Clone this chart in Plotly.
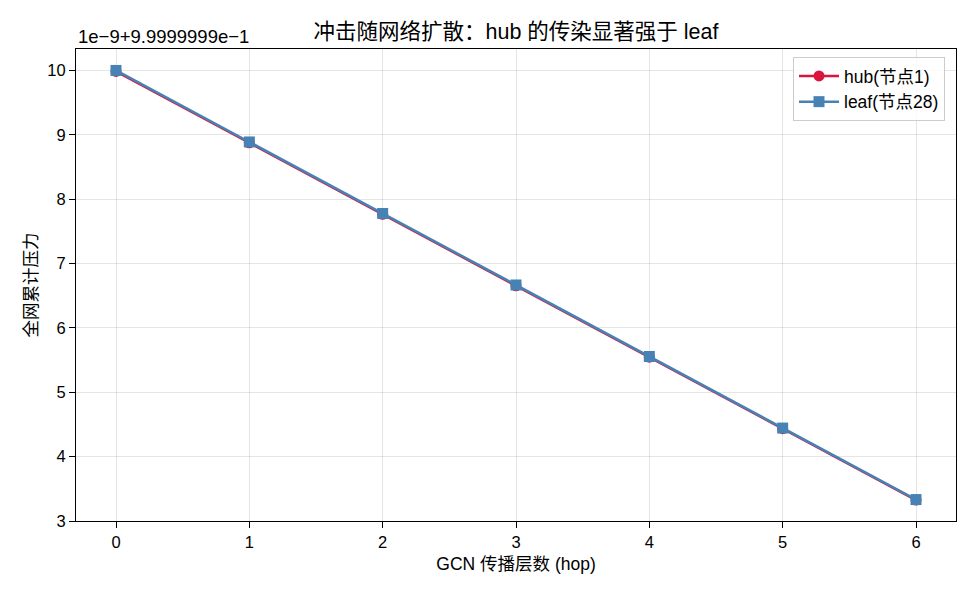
import plotly.graph_objects as go

hops = [0, 1, 2, 3, 4, 5, 6]
# values shown relative to offset 9.9999999e-1, in units of 1e-9
hub_vals = [9.985, 8.875, 7.765, 6.655, 5.545, 4.435, 3.325]
leaf_vals = [10.0, 8.889, 7.778, 6.667, 5.556, 4.444, 3.333]
y_ticks = [3, 4, 5, 6, 7, 8, 9, 10]
offset_text = "1e\u22129+9.9999999e\u22121"

FONT = "Liberation Sans, Arial, Noto Sans CJK SC, sans-serif"
FS = 17.5
TICK_FS = 16.5

fig = go.Figure()
fig.add_trace(go.Scatter(
    x=hops, y=hub_vals, mode="lines+markers", name="hub(节点1)",
    line=dict(color="#DC143C", width=2.5),
    marker=dict(symbol="circle", size=11, color="#DC143C"),
))
fig.add_trace(go.Scatter(
    x=hops, y=leaf_vals, mode="lines+markers", name="leaf(节点28)",
    line=dict(color="#4682B4", width=2.5),
    marker=dict(symbol="square", size=11, color="#4682B4"),
))

axis_common = dict(
    showline=True, linecolor="black", linewidth=1.2, mirror=True,
    ticks="outside", ticklen=6, tickcolor="black", tickwidth=1.2,
    showgrid=True, gridcolor="rgba(0,0,0,0.1)", gridwidth=1,
    zeroline=False, tickfont=dict(size=TICK_FS, color="black", family=FONT),
)

fig.update_layout(
    width=975, height=598,
    margin=dict(l=76, r=19, t=49, b=77),
    paper_bgcolor="white", plot_bgcolor="white",
    font=dict(family=FONT, color="black", size=FS),
    title=dict(text="冲击随网络扩散：hub 的传染显著强于 leaf", x=(76 + 956) / 2 / 975, xanchor="center",
               y=1 - 31 / 598, yanchor="middle", font=dict(size=21.5, family=FONT)),
    xaxis=dict(range=[-0.3, 6.3], tickvals=hops, title=dict(text="GCN 传播层数 (hop)", standoff=7,
               font=dict(size=FS, family=FONT)), **axis_common),
    yaxis=dict(range=[3.0, 10.3333], tickvals=y_ticks, title=dict(text="全网累计压力", standoff=5,
               font=dict(size=FS, family=FONT)), **axis_common),
    legend=dict(x=0.9875, y=0.983, xanchor="right", yanchor="top",
                bgcolor="rgba(255,255,255,0.8)", bordercolor="#cccccc", borderwidth=1,
                font=dict(size=FS, family=FONT), itemwidth=40, tracegroupgap=0),
    showlegend=True,
)
fig.add_annotation(text=offset_text, xref="paper", yref="paper", x=0, y=1,
                   xanchor="left", yanchor="bottom", yshift=0, showarrow=False,
                   font=dict(size=18.5, family=FONT))

fig.write_html("out.html")
